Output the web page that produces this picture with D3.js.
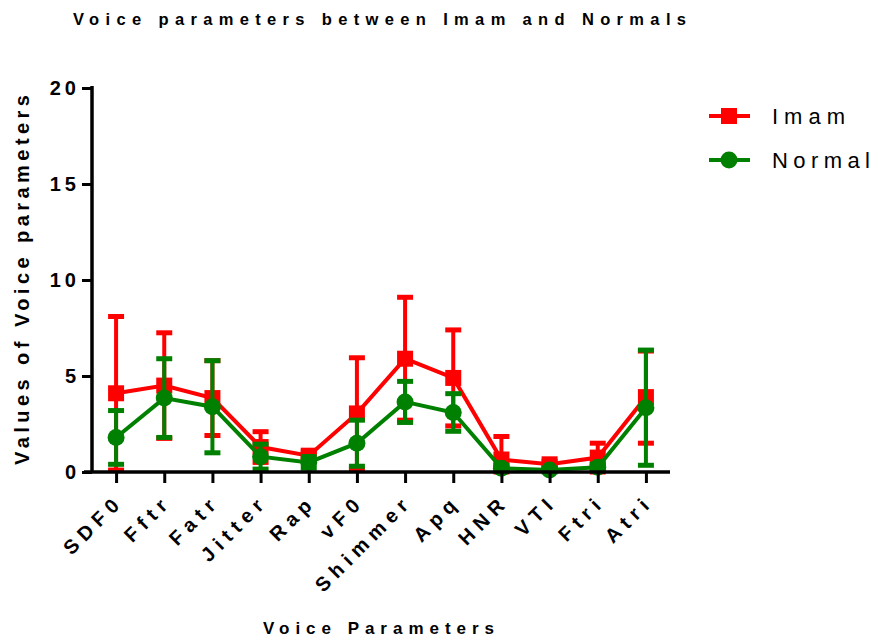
<!DOCTYPE html>
<html><head><meta charset="utf-8">
<script src="https://cdn.jsdelivr.net/npm/d3@7"></script>
<style>body{margin:0;background:#fff}svg{display:block}text{font-family:"Liberation Sans",Arial,sans-serif}</style>
</head><body><svg id="c" width="872" height="638"></svg>
<script>
const categories = ["SDF0","Fftr","Fatr","Jitter","Rap","vF0","Shimmer","Apq","HNR","VTI","Ftri","Atri"];
const imamMean = [4.1, 4.5, 3.85, 1.3, 0.85, 3.05, 5.9, 4.9, 0.65, 0.4, 0.75, 3.9];
const imamSD   = [4.0, 2.75, 1.95, 0.8, 0.2, 2.9, 3.2, 2.5, 1.2, 0.15, 0.75, 2.4];
const normMean = [1.8, 3.85, 3.4, 0.8, 0.5, 1.5, 3.65, 3.1, 0.2, 0.1, 0.25, 3.35];
const normSD   = [1.4, 2.05, 2.4, 0.65, 0.3, 1.2, 1.07, 0.98, 0.15, 0.1, 0.15, 3.0];
const yTicks = [0, 5, 10, 15, 20];

const svg = d3.select("#c");
const x = d3.scalePoint().domain(categories).range([92, 670]).padding(0.5);
const y = d3.scaleLinear().domain([0, 20]).range([472, 88]);

const RED = "#ff0000", GREEN = "#008000";
const series = [
  {name:"Imam", color:RED, mean:imamMean, sd:imamSD, shape:"square"},
  {name:"Normal", color:GREEN, mean:normMean, sd:normSD, shape:"circle"}
];

// Title
svg.append("text").attr("x", 73).attr("y", 25).attr("font-size", 16.5).attr("font-weight", "bold")
  .attr("textLength", 613).attr("lengthAdjust", "spacing").text("Voice parameters between Imam and Normals");

// Series
series.forEach(s => {
  const g = svg.append("g");
  const data = categories.map((c, i) => ({c, m: s.mean[i], sd: s.sd[i]}));
  data.forEach(d => {
    const lo = Math.max(0, d.m - d.sd), hi = d.m + d.sd;
    g.append("line").attr("x1", x(d.c)).attr("x2", x(d.c)).attr("y1", y(lo)).attr("y2", y(hi))
      .attr("stroke", s.color).attr("stroke-width", 4);
    [lo, hi].forEach(v => g.append("line").attr("x1", x(d.c) - 8).attr("x2", x(d.c) + 8)
      .attr("y1", y(v)).attr("y2", y(v)).attr("stroke", s.color).attr("stroke-width", 5));
  });
  g.append("path").datum(data).attr("fill", "none").attr("stroke", s.color).attr("stroke-width", 4)
    .attr("d", d3.line().x(d => x(d.c)).y(d => y(d.m)));
  data.forEach(d => {
    if (s.shape === "square") g.append("rect").attr("x", x(d.c) - 8).attr("y", y(d.m) - 8)
      .attr("width", 16).attr("height", 16).attr("fill", s.color);
    else g.append("circle").attr("cx", x(d.c)).attr("cy", y(d.m)).attr("r", 8.5).attr("fill", s.color);
  });
});

// Axes
const yAxis = svg.append("g").attr("transform", "translate(92,0)")
  .call(d3.axisLeft(y).tickValues(yTicks).tickSize(10).tickPadding(5).tickFormat(d3.format("d")));
yAxis.select(".domain").attr("stroke", "#000").attr("stroke-width", 3.5).attr("d", "M0,86V472");
yAxis.selectAll(".tick line").attr("stroke", "#000").attr("stroke-width", 3);
yAxis.selectAll(".tick text").attr("font-size", 20).attr("font-weight", "bold").attr("letter-spacing", "4px")
  .attr("fill", "#000").attr("font-family", "Liberation Sans, Arial, sans-serif").attr("x", -12);

const xAxis = svg.append("g").attr("transform", "translate(0,472)")
  .call(d3.axisBottom(x).tickSize(11).tickPadding(4));
xAxis.select(".domain").attr("stroke", "#000").attr("stroke-width", 3.5).attr("d", "M84,0H670");
xAxis.selectAll(".tick line").attr("stroke", "#000").attr("stroke-width", 3);
xAxis.selectAll(".tick text").attr("font-size", 20).attr("font-weight", "bold").attr("letter-spacing", "6px")
  .attr("fill", "#000").attr("font-family", "Liberation Sans, Arial, sans-serif")
  .attr("text-anchor", "end").attr("dy", null).attr("y", null)
  .attr("transform", "translate(8,31) rotate(-45)");

// Axis titles
svg.append("text").attr("transform", "translate(29,465) rotate(-90)")
  .attr("font-size", 20).attr("font-weight", "bold").attr("textLength", 370).attr("lengthAdjust", "spacing")
  .text("Values of Voice parameters");
svg.append("text").attr("x", 263).attr("y", 634)
  .attr("font-size", 17).attr("font-weight", "bold").attr("textLength", 231).attr("lengthAdjust", "spacing")
  .text("Voice Parameters");

// Legend
const legendLen = [73, 98];
series.forEach((s, i) => {
  const ly = 116 + i * 44;
  svg.append("line").attr("x1", 709).attr("x2", 750).attr("y1", ly).attr("y2", ly)
    .attr("stroke", s.color).attr("stroke-width", 4);
  if (s.shape === "square") svg.append("rect").attr("x", 721).attr("y", ly - 8).attr("width", 16).attr("height", 16).attr("fill", s.color);
  else svg.append("circle").attr("cx", 729).attr("cy", ly).attr("r", 8.5).attr("fill", s.color);
  svg.append("text").attr("x", 772).attr("y", ly + 8).attr("font-size", 22)
    .attr("textLength", legendLen[i]).attr("lengthAdjust", "spacing").text(s.name);
});
</script></body></html>
